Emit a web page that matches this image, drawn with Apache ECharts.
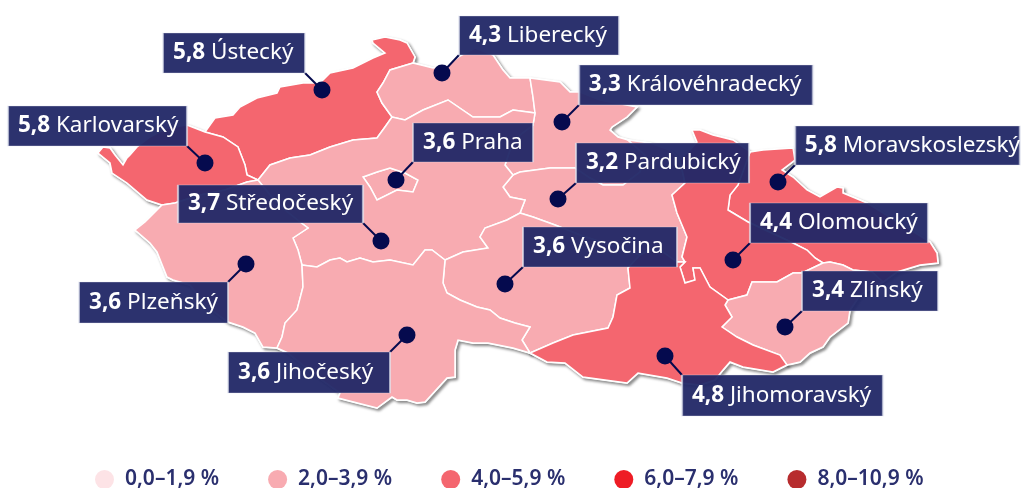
<!DOCTYPE html>
<html>
<head>
<meta charset="utf-8">
<style>
html, body { margin: 0; padding: 0; background: #fff; }
#chart { width: 1021px; height: 488px; }
</style>
<script src="https://cdn.jsdelivr.net/npm/echarts@6/dist/echarts.min.js"></script>
</head>
<body>
<div id="chart"></div>
<script>
// hodnoty po krajich
var regions = ['Ústecký', 'Liberecký', 'Královéhradecký', 'Karlovarský', 'Praha', 'Pardubický', 'Moravskoslezský',
    'Středočeský', 'Olomoucký', 'Vysočina', 'Plzeňský', 'Zlínský', 'Jihočeský', 'Jihomoravský'];
var valueLabels = ['5,8', '4,3', '3,3', '5,8', '3,6', '3,2', '5,8', '3,7', '4,4', '3,6', '3,6', '3,4', '3,6', '4,8'];
// trida barvy tak, jak je v obrazku (Liberecky je v originale svetly, i kdyz ma 4,3)
var colorClass = [2, 1, 1, 2, 1, 1, 2, 1, 2, 1, 1, 1, 1, 2];
var legendLabels = ['0,0–1,9 %', '2,0–3,9 %', '4,0–5,9 %', '6,0–7,9 %', '8,0–10,9 %'];
var legendMin = [0, 2, 4, 6, 8];
var legendMax = [1.9, 3.9, 5.9, 7.9, 10.9];
var legendColors = ['#fde3e6', '#f8abb1', '#f4666f', '#ee1c25', '#b72c2e'];

// hranice kraju (obrysy podkladove mapy v pixelech obrazku)
var uOut = [[413,63],[415,57],[407,43],[400,40],[385,37],[372,40],[373,43],[385,53],[373,58],[353,68],[330,73],[320,83],[303,83],[280,87],[277,93],[257,98],[240,107],[233,115],[215,118],[205,132]];
var uk = [[205,132],[223,137],[238,147],[245,165],[247,175],[258,180]];
var us = [[258,180],[270,165],[290,158],[310,155],[330,147],[353,140],[377,138],[385,127],[392,117]];
var ul = [[392,117],[382,103],[377,92],[383,83],[390,70],[413,63]];
var kOut = [[205,132],[187,125],[167,128],[150,137],[137,147],[130,155],[127,158],[123,165],[115,155],[110,148],[103,147],[98,153],[110,163],[112,173],[127,183],[147,200],[162,205]];
var kp = [[162,205],[175,203],[200,195],[225,190],[247,182],[258,180]];
var ps = [[258,180],[270,195],[285,210],[300,222],[308,228],[293,238],[298,250],[302,265]];
var pOut = [[162,205],[145,222],[135,230],[150,243],[157,252],[167,277],[173,280],[190,285],[205,305],[228,322],[243,327],[255,333],[263,347],[277,348]];
var pj = [[277,348],[282,337],[285,323],[297,310],[303,287],[302,265]];
var sj = [[302,265],[317,267],[330,260],[340,258],[347,262],[360,258],[373,262],[390,260],[413,265],[425,250],[432,250],[445,260]];
var sv = [[445,260],[463,252],[488,248],[480,237],[485,228],[507,220],[520,213]];
var sp = [[520,213],[525,200],[510,197],[503,187],[513,175]];
var sk = [[513,175],[505,165],[510,150],[520,135],[533,125],[535,113]];
var sl = [[535,113],[513,110],[500,117],[473,117],[448,100],[423,110],[405,120],[392,117]];
var lk = [[535,113],[533,97],[530,78]];
var lOut = [[413,63],[433,68],[448,65],[460,56],[475,48],[493,55],[503,70],[510,78],[530,78]];
var kOut2 = [[530,78],[560,82],[570,92],[580,92],[600,100],[637,107],[627,117],[612,127],[610,130],[618,137],[628,140]];
var kp2 = [[513,175],[520,172],[550,168],[575,168],[590,178],[603,185],[623,185],[640,172],[645,155],[628,140]];
var pOut2 = [[628,140],[650,143],[670,150],[680,160]];
var po = [[680,160],[685,183],[672,195],[677,213],[687,237],[682,257],[685,262]];
var pj2 = [[685,262],[677,262],[660,250],[650,250],[640,255]];
var pv = [[520,213],[533,217],[555,225],[580,235],[610,245],[640,255]];
var vj = [[640,255],[628,268],[630,288],[617,295],[613,317],[608,328],[573,335],[553,343],[530,353]];
var vjih = [[445,260],[443,283],[447,293],[460,300],[477,307],[490,310],[500,318],[515,323],[530,327],[522,340],[530,353]];
var jihOut = [[277,348],[288,353],[315,375],[340,393],[338,398],[377,408],[392,397],[397,400],[407,400],[417,403],[425,402],[447,378],[455,377],[455,350],[458,340],[473,343],[488,343],[513,348],[530,353]];
var jmOut = [[530,353],[547,362],[565,363],[583,377],[627,383],[638,373],[667,378],[682,383],[700,385],[715,380],[723,370],[730,362],[743,367],[773,372],[787,365]];
var oj = [[685,262],[680,267],[685,283],[695,280],[693,268],[700,268],[710,287],[728,300]];
var zj = [[728,300],[725,305],[732,317],[722,327],[737,337],[753,345],[780,355],[787,365]];
var oz = [[728,300],[747,295],[752,282],[777,282],[793,273],[802,273],[823,263]];
var oOut = [[680,160],[690,150],[697,142],[692,130],[700,130],[713,135],[733,140],[750,152]];
var om = [[750,152],[738,185],[730,195],[728,210],[748,222],[793,243],[807,250],[815,258],[823,263]];
var mOut = [[750,152],[763,150],[793,148],[795,160],[782,170],[793,177],[807,190],[820,197],[837,187],[843,188],[843,193],[867,203],[930,242],[937,253],[938,263],[920,265],[897,272],[883,282]];
var mz = [[823,263],[830,262],[843,265],[853,270],[872,272],[883,282]];
var zOut = [[883,282],[860,295],[850,310],[848,323],[830,337],[823,347],[810,353],[800,362],[787,365]];
var prahaRing = [[363,177],[377,172],[390,168],[405,173],[418,180],[413,192],[397,190],[377,200],[370,187],[363,177]];

function rev(a) { return a.slice().reverse(); }
function ring() {
    var out = [];
    for (var i = 0; i < arguments.length; i++) {
        out = out.concat(arguments[i]);
    }
    out.push(out[0]);
    return out;
}
function flip(r) { return r.map(function (p) { return [p[0], -p[1]]; }); }

var shapes = {
    'Ústecký': [ring(uOut, uk, us, ul)],
    'Liberecký': [ring(lOut, rev(lk), sl, ul)],
    'Královéhradecký': [ring(kOut2, rev(kp2), sk, lk)],
    'Karlovarský': [ring(kOut, kp, rev(uk))],
    'Praha': [prahaRing],
    'Pardubický': [ring(kp2, pOut2, po, pj2, rev(pv), sp)],
    'Moravskoslezský': [ring(mOut, rev(mz), rev(om))],
    'Středočeský': [ring(ps, sj, sv, sp, sk, sl, rev(us)), prahaRing],
    'Olomoucký': [ring(oOut, om, rev(oz), rev(oj), rev(po))],
    'Vysočina': [ring(pv, vj, rev(vjih), sv)],
    'Plzeňský': [ring(pOut, pj, rev(ps), rev(kp))],
    'Zlínský': [ring(oz, mz, zOut, rev(zj))],
    'Jihočeský': [ring(jihOut, rev(vjih), rev(sj), rev(pj))],
    'Jihomoravský': [ring(rev(pj2), oj, zj, rev(jmOut), rev(vj))]
};

echarts.registerMap('cesko', {
    type: 'FeatureCollection',
    features: regions.map(function (name) {
        return {
            type: 'Feature',
            properties: { name: name },
            geometry: { type: 'Polygon', coordinates: shapes[name].map(flip) }
        };
    })
});

// rozlozeni popisku: bod v mape a obdelnik [x0, y0, x1, y1]
var dotPos = {
    'Ústecký': [322, 90], 'Liberecký': [442, 73], 'Královéhradecký': [562, 122], 'Karlovarský': [205, 163],
    'Praha': [396, 180], 'Pardubický': [558, 199], 'Moravskoslezský': [778, 182], 'Středočeský': [381, 241],
    'Olomoucký': [733, 260], 'Vysočina': [505, 284], 'Plzeňský': [246, 264], 'Zlínský': [785, 327],
    'Jihočeský': [407, 335], 'Jihomoravský': [665, 356]
};
var boxPos = {
    'Ústecký': [163, 33, 305, 73], 'Liberecký': [459, 16, 619, 55], 'Královéhradecký': [579, 65, 813, 105],
    'Karlovarský': [8, 106, 187, 146], 'Praha': [413, 123, 533, 162], 'Pardubický': [576, 143, 749, 183],
    'Moravskoslezský': [795, 126, 1020, 165], 'Středočeský': [178, 185, 363, 223], 'Olomoucký': [750, 203, 928, 243],
    'Vysočina': [523, 227, 677, 267], 'Plzeňský': [79, 282, 228, 323], 'Zlínský': [802, 271, 938, 311],
    'Jihočeský': [228, 352, 390, 393], 'Jihomoravský': [682, 375, 883, 416]
};

function nearestCorner(d, b) {
    return [Math.abs(d[0] - b[0]) < Math.abs(d[0] - b[2]) ? b[0] : b[2],
            Math.abs(d[1] - b[1]) < Math.abs(d[1] - b[3]) ? b[1] : b[3]];
}
function geoPt(p) { return [p[0], -p[1]]; }

var mapBox = { left: 0, top: 0, width: 1021, height: 488, aspectScale: 1, boundingCoords: [[0, 0], [1021, -488]] };

var chart = echarts.init(document.getElementById('chart'));
chart.setOption({
    backgroundColor: '#fff',
    animation: false,
    textStyle: { fontFamily: 'Noto Sans' },
    geo: Object.assign({
        map: 'cesko',
        silent: true,
        itemStyle: {
            areaColor: '#f8abb1',
            borderColor: '#fff',
            borderWidth: 2,
            shadowColor: 'rgba(0,0,0,0.4)',
            shadowBlur: 3,
            shadowOffsetX: 2,
            shadowOffsetY: 2
        }
    }, mapBox),
    visualMap: {
        type: 'piecewise',
        seriesIndex: 0,
        orient: 'horizontal',
        left: 80,
        top: 454,
        itemWidth: 19,
        itemHeight: 19,
        itemSymbol: 'circle',
        itemGap: 49,
        selectedMode: false,
        hoverLink: false,
        textGap: 11,
        textStyle: { color: '#2a2f6e', fontSize: 21, fontWeight: 600, fontFamily: 'Noto Sans' },
        pieces: legendLabels.map(function (l, i) {
            return { min: legendMin[i], max: legendMax[i], label: l, color: legendColors[i] };
        })
    },
    series: [
        Object.assign({
            type: 'map',
            map: 'cesko',
            silent: true,
            z: 2,
            label: { show: false },
            itemStyle: { borderColor: '#fff', borderWidth: 1.5 },
            data: regions.map(function (name, i) { return { name: name, value: legendMin[colorClass[i]] }; })
        }, mapBox),
        {
            type: 'lines',
            coordinateSystem: 'geo',
            z: 3,
            silent: true,
            lineStyle: { color: '#050a4e', width: 2, opacity: 1, curveness: 0 },
            data: regions.map(function (name) {
                return { coords: [geoPt(dotPos[name]), geoPt(nearestCorner(dotPos[name], boxPos[name]))] };
            })
        },
        {
            type: 'scatter',
            coordinateSystem: 'geo',
            z: 4,
            silent: true,
            symbolSize: 17,
            itemStyle: { color: '#050a4e', opacity: 1 },
            data: regions.map(function (name) { return geoPt(dotPos[name]); })
        },
        {
            type: 'scatter',
            coordinateSystem: 'geo',
            z: 5,
            silent: true,
            symbol: 'rect',
            itemStyle: { color: 'rgba(33,39,102,0.95)', borderColor: 'rgba(225,228,240,0.7)', borderWidth: 1, opacity: 1 },
            label: {
                show: true,
                position: [11, '50%'],
                verticalAlign: 'middle',
                color: '#fff',
                fontSize: 22.5,
                fontFamily: 'Noto Sans',
                rich: { b: { fontWeight: 700, fontSize: 22.5, color: '#fff', fontFamily: 'Noto Sans' } }
            },
            data: regions.map(function (name, i) {
                var b = boxPos[name];
                return {
                    value: geoPt([(b[0] + b[2]) / 2, (b[1] + b[3]) / 2]),
                    symbolSize: [b[2] - b[0], b[3] - b[1]],
                    label: { formatter: '{b|' + valueLabels[i] + '} ' + name }
                };
            })
        }
    ]
});
</script>
</body>
</html>
